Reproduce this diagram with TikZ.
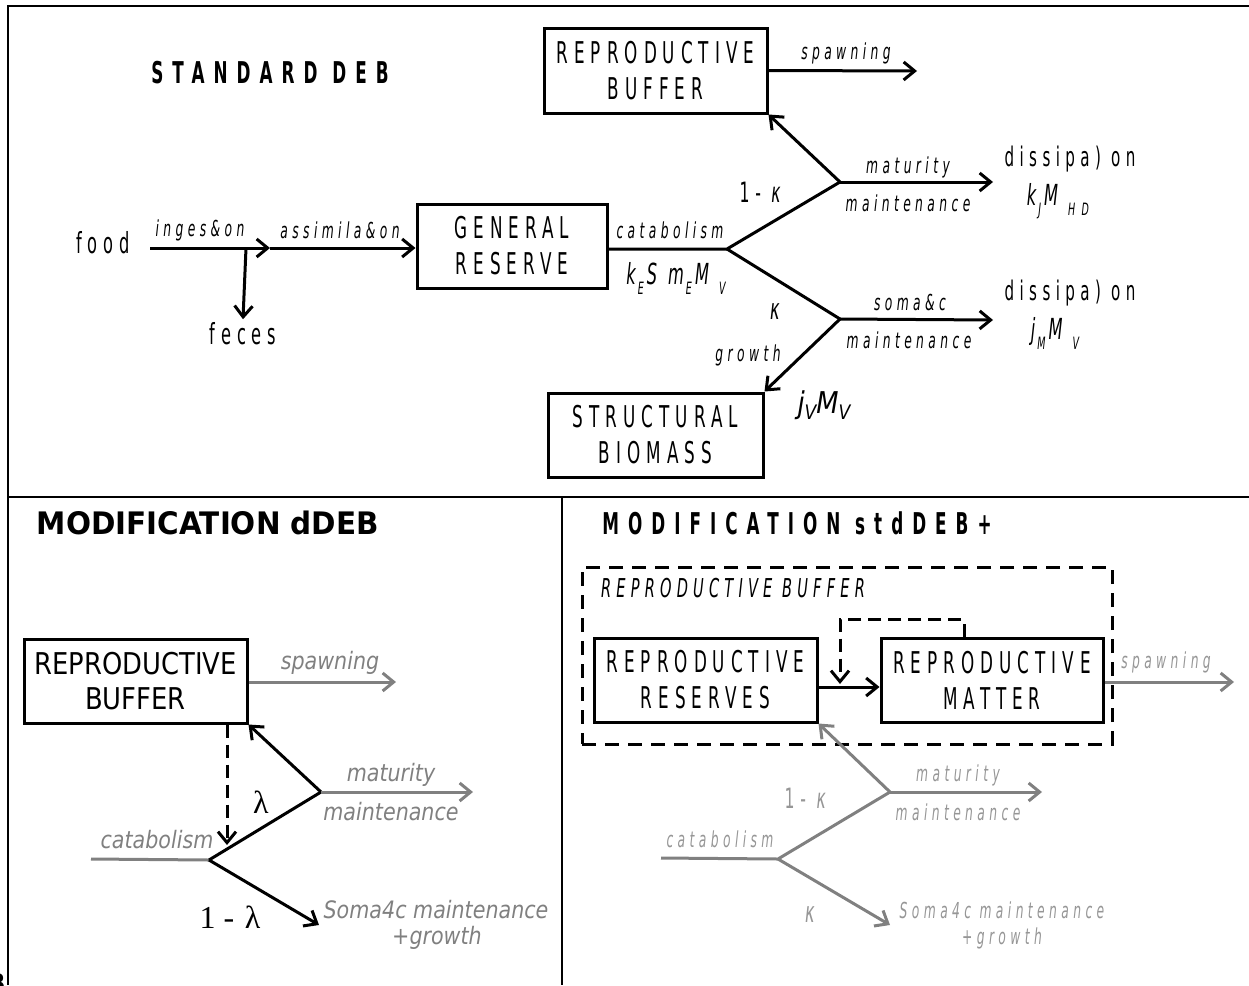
\documentclass[tikz,border=0pt]{standalone}
\usepackage{fontspec}
\setmainfont{DejaVu Sans}[FakeStretch=0.56,LetterSpace=20]
\newfontfamily\tightfont{DejaVu Sans}[FakeStretch=0.86,LetterSpace=0]
\newfontfamily\ddebfont{DejaVu Sans}[FakeStretch=0.95]
\newfontfamily\serifont{Liberation Serif}
\usetikzlibrary{arrows.meta}
\definecolor{debink}{RGB}{0,0,0}
\definecolor{debgrey}{RGB}{128,128,128}
\definecolor{debpale}{RGB}{150,150,150}
\newcommand{\boxfont}{\fontsize{30}{36}\selectfont}
\newcommand{\lblfont}{\itshape\fontsize{22}{26}\selectfont}
\newcommand{\lsub}[1]{\hspace{2pt}\raisebox{-10pt}{\fontsize{17}{17}\selectfont #1}\hspace{3pt}}
\tikzset{
  debbox/.style={
    draw=debink, line width=3pt, align=center, inner sep=0pt, font=\boxfont
  },
  tbox/.style={debbox, font=\tightfont\boxfont},
  flow/.style={-{Straight Barb[length=11pt,width=18pt]}, draw=debink, line width=3pt},
  gflow/.style={flow, draw=debgrey},
  dflow/.style={flow, dash pattern=on 13pt off 7pt},
  stem/.style={draw=debink, line width=3pt},
  gstem/.style={stem, draw=debgrey},
  lbl/.style={font=\lblfont, inner sep=1pt},
  glbl/.style={lbl, text=debpale},
  tlbl/.style={font=\tightfont\itshape\fontsize{24}{28}\selectfont, text=debgrey, inner sep=1pt},
  ttl/.style={font=\bfseries\addfontfeature{LetterSpace=30}\fontsize{30}{36}\selectfont},
  sym/.style={font=\itshape\fontsize{29}{32}\selectfont, inner sep=1pt},
  grek/.style={font=\serifont\fontsize{32}{36}\selectfont, inner sep=1pt},
  frame/.style={draw=debink, line width=2pt},
  grpbox/.style={draw=debink, line width=3pt, dash pattern=on 14pt off 9pt}
}
\begin{document}
\begin{tikzpicture}[x=1pt,y=-1pt]
  \useasboundingbox (0,0) rectangle (1249,985);
  % panels
  \draw[frame] (8,985) -- (8,6) -- (1249,6);
  \draw[frame] (8,497) -- (1249,497);
  \draw[frame] (562,497) -- (562,985);
  \node[font=\ddebfont\bfseries\fontsize{26}{30}\selectfont, anchor=base east, inner sep=0pt] (cut) at (6,992) {B};

  % standard DEB
  \node[ttl] (std) at (270,73) {STANDARD DEB};
  \node[font=\fontsize{29}{34}\selectfont] (food) at (103,243) {food};
  \node[font=\fontsize{29}{34}\selectfont] (feces) at (243,334) {feces};
  \node[debbox, minimum width=190pt, minimum height=84pt] (gres) at (512,246) {GENERAL\\RESERVE};
  \node[debbox, minimum width=223pt, minimum height=85pt] (rbuf) at (655.5,70.5) {REPRODUCTIVE\\BUFFER};
  \node[debbox, minimum width=215pt, minimum height=84pt] (sbio) at (655.5,435) {STRUCTURAL\\BIOMASS};
  \coordinate (fstart) at (150,248);
  \coordinate (fbr) at (246,248);
  \coordinate (inj) at (270,248);
  \coordinate (split) at (727,249);
  \coordinate (fmat) at (840,182);
  \coordinate (fsom) at (840,319);
  \coordinate (mjend) at (993,182);
  \coordinate (smend) at (993,320);
  \coordinate (spend) at (917,71);
  \draw[flow] (fstart) -- (inj);
  \draw[flow] (inj) -- (gres.west |- inj);
  \draw[flow] (fbr) -- (feces.north);
  \draw[stem] (gres.east |- split) -- (split) -- (fmat);
  \draw[stem] (split) -- (fsom);
  \draw[flow] (fmat) -- (rbuf.south east);
  \draw[flow] (fmat) -- (mjend);
  \draw[flow] (fsom) -- (smend);
  \draw[flow] (fsom) -- (sbio.north east);
  \draw[flow] (rbuf.east) -- (spend);
  \node[lbl] (lingest) at (200,230) {inges\&on};
  \node[lbl] (lassim) at (340,230) {assimila\&on};
  \node[lbl] (lcat) at (670,230) {catabolism};
  \node[sym] (lkes) at (676,278) {k\lsub{E}S m\lsub{E}M\hspace{8pt}\lsub{V}};
  \node[font=\fontsize{28}{32}\selectfont, inner sep=1pt] (lomk) at (763,192) {1- \textit{κ}};
  \node[sym] (lk) at (775,312) {κ};
  \node[lbl] (lspawn) at (846,53) {spawning};
  \node[lbl] (lmat) at (908,167) {maturity};
  \node[lbl] (lmain) at (908,203) {maintenance};
  \node[lbl] (lsoma) at (910,302) {soma\&c};
  \node[lbl] (lmain2) at (909,340) {maintenance};
  \node[lbl] (lgrow) at (748,355) {growth};
  \node[font=\tightfont\itshape\fontsize{30}{34}\selectfont, inner sep=1pt] (ljv) at (824,405) {j\raisebox{-6pt}{\fontsize{20}{20}\selectfont V}M\raisebox{-6pt}{\fontsize{20}{20}\selectfont V}};
  \node[font=\fontsize{27}{32}\selectfont, inner sep=1pt] (ldis) at (1070,159) {dissipa) on};
  \node[sym] (lkj) at (1058,201) {k\lsub{J}M\hspace{8pt}\lsub{H D}};
  \node[font=\fontsize{27}{32}\selectfont, inner sep=1pt] (ldis2) at (1070,293) {dissipa) on};
  \node[sym] (ljm) at (1055,333) {j\lsub{M}M\hspace{8pt}\lsub{V}};

  % modification dDEB
  \node[font=\ddebfont\bfseries\fontsize{31}{36}\selectfont] (dttl) at (208,523) {MODIFICATION dDEB};
  \node[tbox, minimum width=223pt, minimum height=84pt] (dbuf) at (135.5,681) {REPRODUCTIVE\\[-1pt]BUFFER};
  \coordinate (dspend) at (396,682);
  \coordinate (dtip) at (227,845);
  \coordinate (dsplit) at (209,860);
  \coordinate (dcat) at (91,859);
  \coordinate (dmat) at (321,792);
  \coordinate (dmend) at (473,792);
  \coordinate (dsend) at (319,925);
  \draw[gflow] (dbuf.east |- dspend) -- (dspend);
  \draw[dflow] (dtip |- dbuf.south) -- (dtip);
  \draw[gstem] (dcat) -- (dsplit);
  \draw[stem] (dsplit) -- (dmat);
  \draw[flow] (dmat) -- (dbuf.south east);
  \draw[gflow] (dmat) -- (dmend);
  \draw[flow] (dsplit) -- (dsend);
  \node[tlbl] (dlspawn) at (330,663) {spawning};
  \node[tlbl] (dlcat) at (157,840) {catabolism};
  \node[tlbl] (dlmat) at (391,775) {maturity};
  \node[tlbl] (dlmain) at (391,812) {maintenance};
  \node[tlbl] (dlsoma) at (436,910) {Soma4c maintenance};
  \node[tlbl] (dlgrow) at (437,938) {+growth};
  \node[grek] (dll) at (261,802) {λ};
  \node[grek] (dlol) at (230,917) {1 -\,\,λ};

  % modification stdDEB+
  \node[ttl] (sttl) at (797,523) {MODIFICATION stdDEB+};
  \node[grpbox, minimum width=530pt, minimum height=177pt] (sbuf) at (847,655.5) {};
  \node[font=\itshape\fontsize{26}{30}\selectfont, inner sep=1pt] (lsbuf) at (733,588) {REPRODUCTIVE BUFFER};
  \node[debbox, minimum width=223pt, minimum height=84pt] (rres) at (705.5,680) {REPRODUCTIVE\\RESERVES};
  \node[debbox, minimum width=222pt, minimum height=84pt] (rmat) at (992,680) {REPRODUCTIVE\\MATTER};
  \coordinate (ltip) at (840,684);
  \coordinate (sspend) at (1234,682);
  \coordinate (ssplit) at (778,859);
  \coordinate (scat) at (661,858);
  \coordinate (smat) at (890,792);
  \coordinate (smmend) at (1042,792);
  \coordinate (ssend) at (890,925);
  \draw[flow] ([yshift=-7pt]rres.east) -- ([yshift=-7pt]rmat.west);
  \draw[dflow] ([xshift=-28pt]rmat.north) -- ++(0,-17) -| (ltip);
  \draw[gflow] (rmat.east |- sspend) -- (sspend);
  \draw[gstem] (scat) -- (ssplit) -- (smat);
  \draw[gflow] (smat) -- (rres.south east);
  \draw[gflow] (smat) -- (smmend);
  \draw[gflow] (ssplit) -- (ssend);
  \node[glbl] (slspawn) at (1166,662) {spawning};
  \node[glbl] (slcat) at (720,839) {catabolism};
  \node[glbl] (slmat) at (958,775) {maturity};
  \node[glbl] (slmain) at (958,812) {maintenance};
  \node[font=\fontsize{28}{32}\selectfont, text=debpale, inner sep=1pt] (slomk) at (808,798) {1- \textit{κ}};
  \node[sym, text=debpale] (slk) at (810,915) {κ};
  \node[glbl] (slsoma) at (1002,910) {Soma4c maintenance};
  \node[glbl] (slgrow) at (1002,938) {+growth};
\end{tikzpicture}
\end{document}
